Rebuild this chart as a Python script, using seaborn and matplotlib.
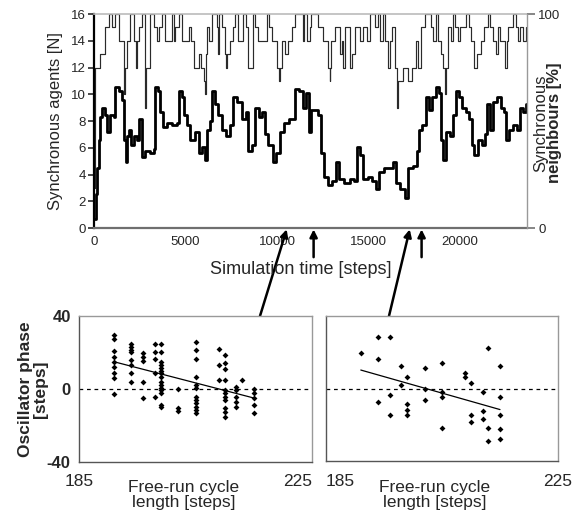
import numpy as np
import pandas as pd
import matplotlib
matplotlib.use("Agg")
import matplotlib.pyplot as plt
import seaborn as sns

# ---------------- data ----------------
# Synchronous agents N (step series), time in simulation steps
agents_t = [0, 70, 340, 620, 800, 980, 1160, 1350, 1620, 1700,
            1800, 1980, 2170, 2300, 2350, 2440, 2620, 2800, 2850, 3080,
            3260, 3440, 3550, 3720, 3900, 4260, 4350, 4440, 4630, 4800,
            5170, 5300, 5450, 5720, 5850, 6000, 6060, 6120, 6180, 6300,
            6450, 6700, 6800, 6850, 7000, 7160, 7200, 7250, 7430, 7600,
            7700, 7870, 8140, 8300, 8415, 8690, 8800, 8960, 9450, 9550,
            9730, 10000, 10100, 10150, 10270, 10450, 10600, 10800, 10980, 11400,
            11500, 11640, 11800, 11860, 12240, 12510, 12790, 12870, 12900, 12950,
            13170, 13440, 13550, 13600, 13714, 13990, 14100, 14260, 14530, 14700,
            14900, 15080, 15350, 15500, 15630, 15800, 15900, 16050, 16170, 16300,
            16450, 16550, 16600, 16900, 17160, 17350, 17600, 17700, 17867, 18100,
            18414, 18550, 18687, 18800, 18950, 19069, 19200, 19250, 19343, 19500,
            19616, 19750, 19889, 20000, 20326, 20500, 20599, 20763, 20950, 21146,
            21300, 21528, 21650, 21801, 21950, 22075, 22200, 22450, 22550, 22621,
            22894, 23050, 23167, 23300, 23440, 23600]
agents_n = [3, 12, 13, 15, 16, 15, 16, 14, 10, 12,
            14, 16, 14, 12, 14, 15, 16, 9, 12, 16,
            15, 14, 15, 16, 14, 16, 14, 15, 16, 14,
            15, 14, 12, 13, 12, 11, 10, 13, 15, 14,
            16, 15, 13, 16, 15, 13, 12, 13, 14, 15,
            16, 14, 16, 15, 12, 16, 15, 14, 16, 15,
            14, 12, 11, 12, 14, 13, 14, 15, 16, 14,
            16, 14, 15, 16, 15, 14, 12, 11, 12, 14,
            15, 13, 14, 12, 15, 12, 13, 15, 14, 15,
            14, 16, 15, 16, 14, 16, 14, 12, 14, 15,
            12, 9, 11, 12, 11, 12, 14, 12, 15, 16,
            15, 14, 16, 14, 13, 12, 10, 12, 15, 14,
            16, 15, 14, 15, 16, 15, 14, 12, 13, 14,
            15, 16, 15, 14, 13, 15, 14, 12, 14, 15,
            16, 15, 14, 15, 14, 15]

# Synchronous neighbours [%] (step series)
neigh_t = [0, 90, 164, 257, 328, 437, 600, 710, 874, 1093, 1147, 1366, 1530, 1639,
           1748, 1803, 1912, 2021, 2186, 2350, 2459, 2623, 2787, 3060, 3278, 3333,
           3497, 3606, 3770, 3989, 4262, 4535, 4644, 4808, 4917, 5082, 5246, 5519, 5737,
           5901, 6065, 6174, 6338, 6448, 6612, 6776, 6994, 7213, 7431, 7595, 7814,
           8087, 8305, 8415, 8633, 8797, 9016, 9180, 9343, 9507, 9780, 9944, 10163,
           10381, 10654, 10982, 11200, 11420, 11584, 11748,
           11857, 12076, 12240, 12403, 12567, 12786, 13004, 13223, 13387, 13660,
           13988, 14206, 14370, 14534, 14698, 14971, 15190, 15408, 15572, 15845,
           16119, 16337, 16501, 16720, 16993, 17157, 17430, 17649,
           17758, 17922, 18140, 18304, 18468, 18687, 18851, 18960, 19069, 19233,
           19452, 19616, 19780, 19944, 20108, 20326, 20490, 20654, 20763, 20982,
           21200, 21364, 21474, 21638, 21801, 22020, 22238, 22402, 22512, 22676,
           22894, 23113, 23276, 23440, 23604]
neigh_pct = [4, 16, 28, 41, 52, 56, 53, 45, 53, 52, 66, 64, 60, 41,
             31, 43, 46, 39, 43, 41, 51, 33, 36, 35, 37, 66,
             64, 54, 47, 49, 48, 49, 64, 61, 53, 48, 41, 45, 35,
             38, 32, 46, 50, 64, 58, 53, 46, 43, 48, 61, 59,
             51, 54, 36, 39, 56, 52, 54, 44, 39, 31, 35, 45,
             49, 51, 65, 64, 56, 63, 45,
             55, 55, 53, 35, 24, 20, 22, 31, 23, 21,
             23, 22, 38, 34, 23, 24, 22, 18, 26, 28,
             28, 31, 21, 18, 14, 28, 29, 36,
             46, 48, 61, 55, 61, 66, 63, 41, 32, 45,
             43, 53, 64, 61, 56, 54, 51, 39, 34, 41,
             39, 44, 58, 46, 59, 61, 56, 54, 41, 46,
             48, 46, 56, 54, 58]

# Scatter panel 1 (free-run cycle length vs oscillator phase)
p1_len = ([191] * 9 + [194] * 8 + [196] * 5 + [198] * 5 + [199] * 15 + [202] * 3 +
          [205] * 12 + [209] * 3 + [210] * 11 + [212] * 5 + [213] * 1 + [215] * 5)
p1_phase = [29.5, 27.6, 20.9, 17.6, 14.9, 12.2, 8.5, 5.8, -2.9,
            24.4, 23.1, 21.3, 20.4, 15.8, 13.1, 8.9, 4.0,
            19.5, 17.3, 15.3, 4.0, -5.1,
            24.4, 20.4, 16.7, 8.9, -4.2,
            24.4, 20.4, 14.9, 13.1, 11.3, 9.8, 8.5, 6.7, 4.0, 2.2, 0.4, -0.5, -2.4, -8.7, -10.0,
            0.0, -10.5, -12.0,
            25.8, 21.3, 16.7, 6.7, 2.2, 0.4, -4.2, -6.0, -7.8, -9.6, -11.5, -12.9,
            21.8, 13.1, 4.9,
            18.5, 14.5, 10.9, 4.9, -0.5, -2.4, -4.2, -6.0, -10.5, -12.4, -15.5,
            0.9, -0.5, -4.2, -6.9, -9.6,
            4.9,
            0.0, -2.4, -5.1, -8.7, -12.9]

# Scatter panel 2
p2_len = [191, 194, 194, 194, 196, 196, 196, 198, 198, 199, 199, 199, 199,
          202, 202, 202, 205, 205, 205, 205, 209, 209, 210, 210, 210,
          212, 212, 212, 213, 213, 213, 215, 215, 215, 215, 215]
p2_phase = [19.4, 28.5, 16.5, -7.6, 28.5, -3.7, -14.8, 12.4, 2.2, 6.3, -8.5, -11.7, -14.8,
            11.3, -0.2, -6.5, 14.3, -1.7, -4.8, -21.7, 8.3, 6.5, 3.3, -14.8, -18.7,
            -1.7, -12.6, -16.7, 22.4, -21.7, -28.7, 12.4, -4.8, -14.8, -22.6, -27.8]

arrow_times_vertical = [12000, 17900]
arrow_times_slanted = [10550, 17270]

# ---------------- figure ----------------
sns.set_theme(style="white")
plt.rcParams["font.family"] = ["Liberation Sans", "DejaVu Sans"]

W, H = 584, 515
fig = plt.figure(figsize=(W / 100, H / 100), dpi=100)


def rect(l, t, r, b):
    return [l / W, 1 - b / H, (r - l) / W, (b - t) / H]


def fx(px):
    return px / W


def fy(py):
    return 1 - py / H


# ---- top time-series panel ----
ax = fig.add_axes(rect(94, 14, 527, 228))
ax2 = ax.twinx()

df_a = pd.DataFrame({"t": agents_t, "n": agents_n})
df_n = pd.DataFrame({"t": neigh_t, "p": neigh_pct})

sns.lineplot(data=df_a, x="t", y="n", ax=ax, color="#2a2a2a", lw=0.85,
             drawstyle="steps-post", estimator=None)
sns.lineplot(data=df_n, x="t", y="p", ax=ax2, color="black", lw=2.0,
             drawstyle="steps-post", estimator=None)

ax.set_xlim(0, 23660)
ax.set_ylim(0, 16)
ax2.set_ylim(0, 100)
ax.set_xticks([0, 5000, 10000, 15000, 20000])
ax.set_yticks(range(0, 17, 2))
ax2.set_yticks([0, 100])
ax.set_xlabel("")
ax.set_ylabel("")
ax2.set_ylabel("")
ax.tick_params(axis="x", direction="in", length=4, color="#666666", labelsize=9.5, pad=6)
ax.tick_params(axis="y", direction="out", length=4, color="#333333", labelsize=9.5, pad=2)
ax2.tick_params(axis="y", direction="out", length=6, color="#777777", labelsize=9.5, pad=2)

for a in (ax, ax2):
    for s in a.spines.values():
        s.set_visible(False)
ax.spines["left"].set_visible(True)
ax.spines["left"].set_color("black")
ax.spines["left"].set_linewidth(1.6)
ax.spines["bottom"].set_visible(True)
ax.spines["bottom"].set_color("#6f6f6f")
ax.spines["bottom"].set_linewidth(1.6)
ax.spines["top"].set_visible(True)
ax.spines["top"].set_color("#bbbbbb")
ax.spines["top"].set_linewidth(1.2)
ax2.spines["right"].set_visible(True)
ax2.spines["right"].set_color("#999999")
ax2.spines["right"].set_linewidth(1.0)

fig.text(fx(56), fy(121), "Synchronous agents [N]", rotation=90, ha="center",
         va="center", fontsize=12)
fig.text(fx(301), fy(270), "Simulation time [steps]", ha="center", va="center",
         fontsize=13)
fig.text(fx(541), fy(123), "Synchronous", rotation=90, ha="center", va="center",
         fontsize=12)
fig.text(fx(555), fy(123), "neighbours [%]", rotation=90, ha="center", va="center",
         fontsize=12, fontweight="bold")

# arrows
for t in arrow_times_vertical:
    ax.annotate("", xy=(t, 0), xycoords="data", xytext=(0, -21),
                textcoords="offset points", annotation_clip=False,
                arrowprops=dict(arrowstyle="-|>", color="black", lw=1.8,
                                mutation_scale=11, shrinkA=0, shrinkB=1))
for t, (bx, by) in zip(arrow_times_slanted, [(260, 316), (389, 316)]):
    ax.annotate("", xy=(t, 0), xycoords="data", xytext=(fx(bx), fy(by)),
                textcoords="figure fraction", annotation_clip=False,
                arrowprops=dict(arrowstyle="-|>", color="black", lw=1.8,
                                mutation_scale=11, shrinkA=0, shrinkB=1))

# ---- bottom scatter panels ----
axL = fig.add_axes(rect(79, 316, 312, 462))
axR = fig.add_axes(rect(326, 316, 558, 461))

for a, xs, ys in ((axL, p1_len, p1_phase), (axR, p2_len, p2_phase)):
    d = pd.DataFrame({"len": xs, "phase": ys})
    a.axhline(0, color="black", lw=0.9, ls=(0, (3, 3)), zorder=1)
    sns.scatterplot(data=d, x="len", y="phase", ax=a, marker="D", s=9,
                    color="black", linewidth=0, zorder=3)
    k, b0 = np.polyfit(d["len"], d["phase"], 1)
    xx = np.array([d["len"].min(), d["len"].max()])
    a.plot(xx, k * xx + b0, color="black", lw=0.9, zorder=2)
    a.set_xlim(185, 225)
    a.set_ylim(-40, 40)
    a.set_xticks([185, 205, 225])
    a.set_yticks([-40, 0, 40])
    a.set_xlabel("")
    a.set_ylabel("")
    a.tick_params(axis="x", direction="out", length=4, color="#555555",
                  labelsize=12.5, pad=5)
    a.tick_params(axis="y", direction="out", length=4, color="#555555",
                  labelsize=12, pad=2)
    for nm, s in a.spines.items():
        s.set_linewidth(1.0)
        s.set_color("#999999" if nm in ("top", "right") else "#555555")

axL.set_xticklabels(["185", "", "225"])
axL.get_xticklabels()[2].set_ha("right")
axL.set_yticklabels(["-40", "0", "40"], fontweight="bold")
axR.set_xticklabels(["185", "", "225"])
axR.get_xticklabels()[0].set_ha("left")
axR.set_yticklabels(["", "", ""])

fig.text(fx(184), fy(495), "Free-run cycle\nlength [steps]", ha="center",
         va="center", fontsize=12.5, linespacing=0.95)
fig.text(fx(435), fy(495), "Free-run cycle\nlength [steps]", ha="center",
         va="center", fontsize=12.5, linespacing=0.95)
fig.text(fx(33), fy(389), "Oscillator phase\n[steps]", rotation=90, ha="center",
         va="center", fontsize=12.5, fontweight="bold", linespacing=0.95)

fig.savefig("out.png", dpi=100)
